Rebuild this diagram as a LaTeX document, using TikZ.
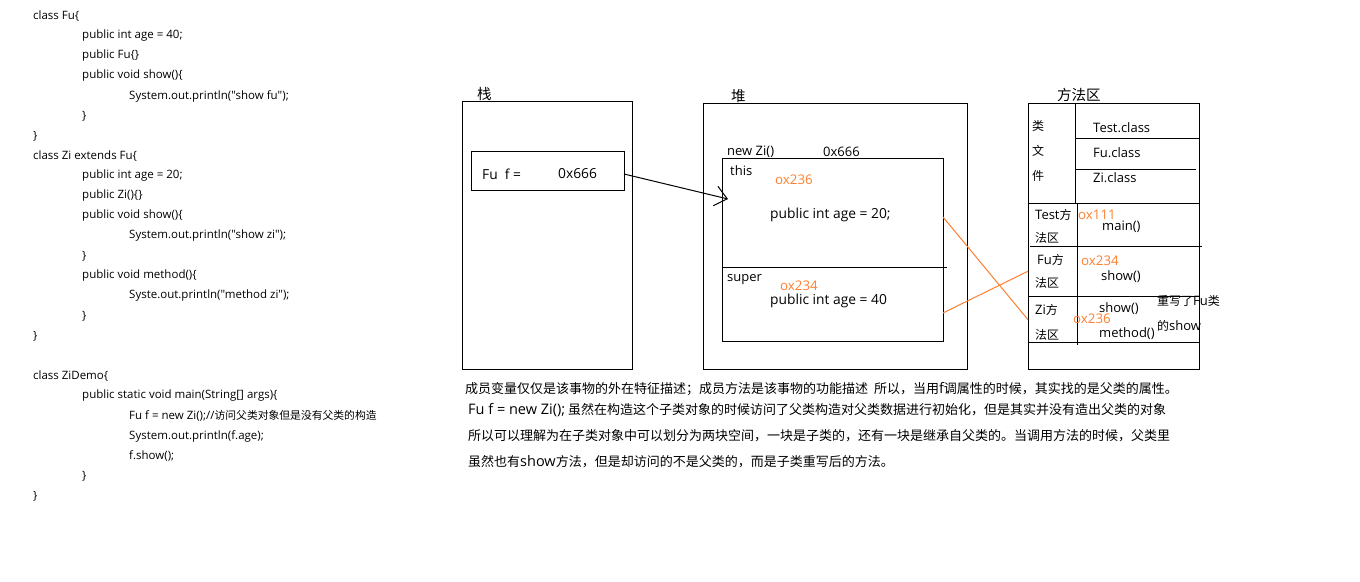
\documentclass[tikz,border=0pt]{standalone}
\usepackage{fontspec}
\newfontfamily\latf{Open Sans}
\newfontfamily\cjkf{Noto Sans CJK SC}
\usetikzlibrary{arrows.meta}
\definecolor{orng}{RGB}{255,128,48}
\newcommand\notelat[1]{{\latf\fontsize{14.5}{15}\selectfont #1}}
\newcommand\lblat[1]{{\latf\fontsize{13}{14}\selectfont #1}}
\begin{document}
\begin{tikzpicture}[x=1pt,y=-1pt,
  box/.style={draw,line width=1pt,anchor=north west,inner sep=0pt,outer sep=0pt},
  code/.style={anchor=west,inner sep=0pt,font=\latf\fontsize{11.5}{13}\selectfont},
  lbl/.style={anchor=west,inner sep=0pt,font=\latf\fontsize{13}{15}\selectfont},
  biglbl/.style={anchor=west,inner sep=0pt,font=\latf\fontsize{13.8}{15}\selectfont},
  mlbl/.style={anchor=west,inner sep=0pt,font=\cjkf\fontsize{12}{14}\selectfont},
  addr/.style={anchor=west,inner sep=0pt,text=orng,font=\latf\fontsize{13.3}{15}\selectfont},
  head/.style={anchor=west,inner sep=0pt,font=\cjkf\fontsize{14.5}{16}\selectfont},
  note/.style={anchor=west,inner sep=0pt,font=\cjkf\fontsize{13}{15}\selectfont},
  ln/.style={line width=1pt},
  link/.style={line width=1pt,draw=orng},
  ptr/.style={line width=1pt,-{Straight Barb[length=12pt,width=20pt]}}
]
\useasboundingbox (0,0) rectangle (1360,581);
\fill[white] (0,0) rectangle (1360,581);

% ---- code column ----
\node[code] (c1) at (33,16) {class Fu\{};
\node[code] (c2) at (82,36) {public int age = 40;};
\node[code] (c3) at (82,56) {public Fu\{\}};
\node[code] (c4) at (82,76) {public void show()\{};
\node[code] (c5) at (129,96) {System.out.println("show fu");};
\node[code] (c6) at (82,116) {\}};
\node[code] (c7) at (33,136) {\}};
\node[code] (c8) at (33,156) {class Zi extends Fu\{};
\node[code] (c9) at (82,176) {public int age = 20;};
\node[code] (c10) at (82,196) {public Zi()\{\}};
\node[code] (c11) at (82,216) {public void show()\{};
\node[code] (c12) at (129,236) {System.out.println("show zi");};
\node[code] (c13) at (82,256) {\}};
\node[code] (c14) at (82,276) {public void method()\{};
\node[code] (c15) at (129,296) {Syste.out.println("method zi");};
\node[code] (c16) at (82,316) {\}};
\node[code] (c17) at (33,336) {\}};
\node[code] (c18) at (33,376) {class ZiDemo\{};
\node[code] (c19) at (82,396) {public static void main(String[] args)\{};
\node[code] (c20) at (129,416) {Fu f = new Zi();//{\cjkf\fontsize{10.8}{12}\selectfont 访问父类对象但是没有父类的构造}};
\node[code] (c21) at (129,436) {System.out.println(f.age);};
\node[code] (c22) at (129,456) {f.show();};
\node[code] (c23) at (82,476) {\}};
\node[code] (c24) at (33,496) {\}};

% ---- stack ----
\node[box,minimum width=170pt,minimum height=268pt] (stack) at (462,101) {};
\node[head] (stacklbl) at (477,94) {栈};
\node[box,minimum width=153pt,minimum height=39pt] (fubox) at (471,151) {};
\node[biglbl] (fuf) at (482,174) {Fu\ \ f =};
\node[biglbl] (fuval) at (558,174) {0x666};

% ---- heap ----
\node[box,minimum width=264pt,minimum height=266pt] (heap) at (703,103) {};
\node[head] (heaplbl) at (731,96) {堆};
\node[lbl] (newzi) at (727,152) {new Zi()};
\node[lbl] (objaddr) at (823,152) {0x666};
\node[box,minimum width=221pt,minimum height=109pt] (thisbox) at (722,158) {};
\node[box,minimum width=221pt,minimum height=74pt] (superbox) at (722,267) {};
\draw[ln] (superbox.north east) -- ++(4,0);
\node[lbl] (thislbl) at (730,171) {this};
\node[addr] (a236) at (775,180) {ox236};
\node[biglbl] (age20) at (770,215) {public int age = 20;};
\node[lbl] (superlbl) at (727,280) {super};
\node[addr] (a234) at (780,286) {ox234};
\node[biglbl] (age40) at (770,301) {public int age = 40};

% ---- method area ----
\node[box,minimum width=171pt,minimum height=266pt] (meth) at (1028,103) {};
\node[head] (methlbl) at (1057,95) {方法区};
\node[inner sep=0pt,minimum width=47pt,minimum height=100pt,anchor=north west] (clscell) at (1028,103) {};
\node[inner sep=0pt,minimum width=49pt,minimum height=43pt,anchor=north west] (testcell) at (1028,203) {};
\node[inner sep=0pt,minimum width=49pt,minimum height=50pt,anchor=north west] (fucell) at (1028,246) {};
\node[inner sep=0pt,minimum width=49pt,minimum height=46pt,anchor=north west] (zicell) at (1028,296) {};
\draw[ln] (1075,103) -- (1075,203);
\draw[ln] (1077,203) -- (1077,345);
\draw[ln] (1075,138) -- (1199,138);
\draw[ln] (1075,169) -- (1196,169);
\draw[ln] (1028,203) -- (1199,203);
\draw[ln] (1030,246) -- (1202,246);
\draw[ln] (1028,296) -- (1199,296);
\draw[ln] (1028,342) -- (1199,342);
\node[mlbl] (k1) at (1032,126) {类};
\node[mlbl] (k2) at (1032,151) {文};
\node[mlbl] (k3) at (1032,176) {件};
\node[lbl] (testcls) at (1093,128) {Test.class};
\node[lbl] (fucls) at (1093,153) {Fu.class};
\node[lbl] (zicls) at (1093,178) {Zi.class};
\node[mlbl] (t1) at (1035,215) {\lblat{Test}方};
\node[mlbl] (t2) at (1035,238) {法区};
\node[addr] (a111) at (1078,215) {ox111};
\node[lbl] (mainm) at (1102,227) {main()};
\node[mlbl] (f1) at (1037,260) {\lblat{Fu}方};
\node[mlbl] (f2) at (1035,283) {法区};
\node[addr] (a234b) at (1081,261) {ox234};
\node[lbl] (fushow) at (1101,277) {show()};
\node[mlbl] (z1) at (1035,310) {\lblat{Zi}方};
\node[mlbl] (z2) at (1035,335) {法区};
\node[lbl] (zishow) at (1099,309) {show()};
\node[addr] (a236b) at (1073,319) {ox236};
\node[lbl] (zimeth) at (1099,334) {method()};
\node[mlbl] (ov1) at (1157,301) {重写了\lblat{Fu}类};
\node[mlbl] (ov2) at (1157,326) {的\lblat{show}};

% ---- connectors ----
\coordinate (ptrstart) at (624,174);
\coordinate (ptrend) at (728,199);
\draw[ptr] (ptrstart) -- (ptrend);
\draw[link] ([yshift=-4.5pt]thisbox.east) -- ([yshift=-0.5pt]zicell.west);
\draw[link] ([yshift=-9pt]superbox.east) -- (fucell.west);

% ---- notes ----
\node[note] (n1) at (465,389) {成员变量仅仅是该事物的外在特征描述；成员方法是该事物的功能描述\ \ 所以，当用\notelat{f}调属性的时候，其实找的是父类的属性。};
\node[note] (n2) at (468,410) {\notelat{Fu f = new Zi();} 虽然在构造这个子类对象的时候访问了父类构造对父类数据进行初始化，但是其实并没有造出父类的对象};
\node[note] (n3) at (468,436) {所以可以理解为在子类对象中可以划分为两块空间，一块是子类的，还有一块是继承自父类的。当调用方法的时候，父类里};
\node[note] (n4) at (468,462) {虽然也有\notelat{show}方法，但是却访问的不是父类的，而是子类重写后的方法。};
\end{tikzpicture}
\end{document}
